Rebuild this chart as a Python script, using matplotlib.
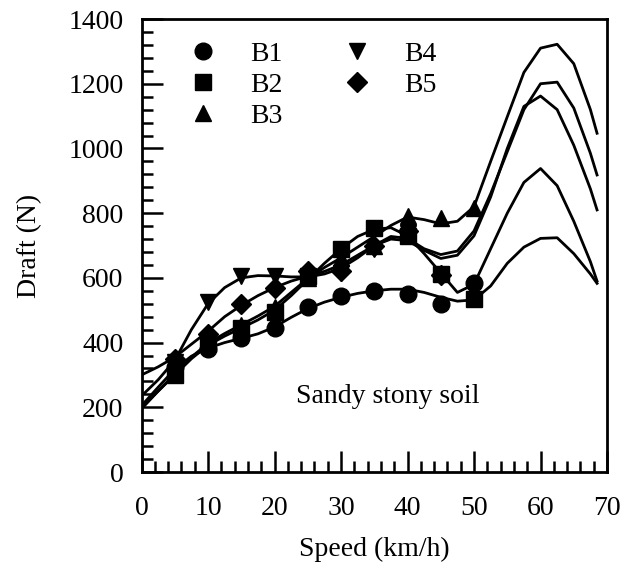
import matplotlib
matplotlib.use("Agg")
import matplotlib.pyplot as plt
from matplotlib.ticker import MultipleLocator

# Measured points (speed in km/h, draft in N)
speed_pts = [5, 10, 15, 20, 25, 30, 35, 40, 45, 50]
b1_pts = [325, 380, 415, 445, 510, 545, 560, 550, 520, 585]
b2_pts = [300, 395, 445, 495, 605, 690, 755, 730, 612, 535]
b3_pts = [305, 405, 455, 510, 600, 660, 700, 790, 785, 815]
b4_speed = [5, 10, 15, 20, 25, 30, 35, 40]
b4_pts = [340, 525, 605, 605, 600, 615, 690, 740]
b5_speed = [5, 10, 15, 20, 25, 30, 35, 40, 45]
b5_pts = [350, 425, 520, 570, 620, 620, 700, 745, 608]

# Fitted curves as drawn in the figure
speed_curve = [0, 2.5, 5, 7.5, 10, 12.5, 15, 17.5, 20, 22.5, 25, 27.5, 30, 32.5, 35,
               37.5, 40, 42.5, 45, 47.5, 50, 52.5, 55, 57.5, 60, 62.5, 65, 67.5, 68.5]
b1_curve = [205, 262, 318, 358, 383, 400, 413, 427, 448, 478, 505, 525, 540, 552, 560,
            565, 565, 555, 540, 528, 532, 575, 645, 695, 722, 724, 675, 612, 583]
b2_curve = [200, 250, 300, 350, 392, 420, 445, 470, 500, 545, 595, 645, 690, 728, 750,
            755, 730, 675, 615, 555, 580, 690, 800, 895, 938, 885, 775, 650, 590]
b3_curve = [195, 250, 303, 355, 398, 428, 455, 482, 512, 555, 598, 632, 662, 695, 728,
            762, 788, 780, 767, 775, 820, 960, 1098, 1235, 1310, 1322, 1262, 1120, 1047]
b4_curve = [235, 285, 345, 440, 520, 570, 600, 607, 606, 603, 603, 612, 630, 662, 700,
            728, 722, 690, 672, 683, 745, 860, 990, 1120, 1200, 1205, 1125, 985, 918]
b5_curve = [300, 325, 355, 395, 435, 480, 515, 545, 570, 590, 605, 620, 640, 670, 700,
            720, 715, 685, 660, 670, 730, 850, 1000, 1130, 1162, 1120, 1010, 875, 810]

labels = ["B1", "B2", "B3", "B4", "B5"]
markers = ["o", "s", "^", "v", "D"]

serif = ["Liberation Serif", "DejaVu Serif"]
plt.rcParams["font.family"] = serif
plt.rcParams["font.size"] = 20

fig = plt.figure(figsize=(6.24, 5.68), dpi=100)
ax = fig.add_axes([0.2268, 0.169, 0.9728 - 0.2268, 0.9665 - 0.169])

curves = [b1_curve, b2_curve, b3_curve, b4_curve, b5_curve]
for c in curves:
    ax.plot(speed_curve, c, color="black", lw=2.0, zorder=2)

pts = [(speed_pts, b1_pts), (speed_pts, b2_pts), (speed_pts, b3_pts),
       (b4_speed, b4_pts), (b5_speed, b5_pts)]
msize = {"o": 12, "s": 11, "^": 12, "v": 12, "D": 10}
handles = []
for (xs, ys), m, lab in zip(pts, markers, labels):
    h, = ax.plot(xs, ys, linestyle="none", marker=m, markersize=msize[m],
                 color="black", label=lab, zorder=3)
    handles.append(h)

ax.set_xlim(0, 70)
ax.set_ylim(0, 1400)
ax.xaxis.set_major_locator(MultipleLocator(10))
ax.xaxis.set_minor_locator(MultipleLocator(2))
ax.yaxis.set_major_locator(MultipleLocator(200))
ax.yaxis.set_minor_locator(MultipleLocator(40))
ax.tick_params(which="both", direction="in", top=False, right=False, width=1.8)
ax.tick_params(which="major", length=15)
ax.tick_params(which="minor", length=8)
ax.tick_params(axis="x", which="major", pad=17, labelsize=20)
ax.tick_params(axis="y", which="major", pad=13, labelsize=20)
for s in ax.spines.values():
    s.set_linewidth(2.0)

ax.set_xlabel("Speed (km/h)", fontsize=20, labelpad=12)
ax.set_ylabel("Draft (N)", fontsize=20, labelpad=19)

ax.text(37, 232, "Sandy stony soil", ha="center", va="center", fontsize=20)

leg = ax.legend(handles=handles, ncol=2, loc="upper left",
                bbox_to_anchor=(0.078, 0.975), frameon=False, fontsize=20,
                handlelength=1.0, handletextpad=1.2, columnspacing=2.2,
                labelspacing=0.2, borderaxespad=0)

fig.savefig("out.png", dpi=100)
